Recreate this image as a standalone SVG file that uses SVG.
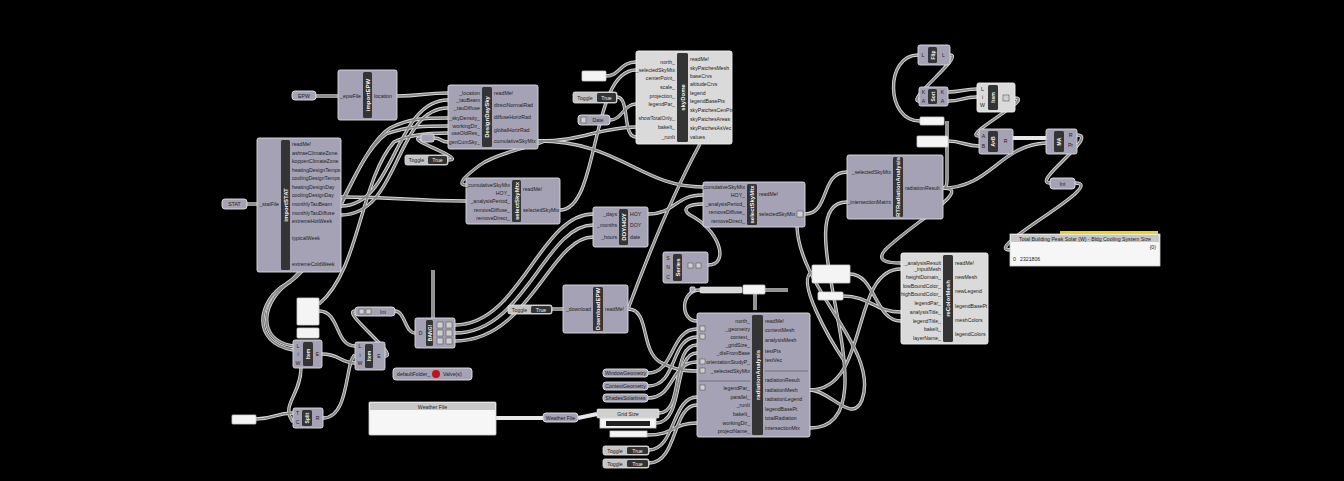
<svg xmlns="http://www.w3.org/2000/svg" xmlns:xlink="http://www.w3.org/1999/xlink" width="1344" height="481" viewBox="0 0 1344 481">
<style>
.n{fill:#a4a2b4;stroke:#dedede;stroke-width:0.9}
.nl{fill:#dadada;stroke:#f2f2f2;stroke-width:0.9}
.s{fill:#343434}
.p{fill:#a4a2b4;stroke:#e4e4e4;stroke-width:0.9}
.wp{fill:#f4f4f4;stroke:#cfcfcf;stroke-width:0.8}
.t{font-family:"Liberation Sans",Arial,sans-serif;font-size:5.2px;fill:#1e1e22}
.ti{font-family:"Liberation Sans",Arial,sans-serif;font-size:5.2px;fill:#1e1e22;text-anchor:end}
.tc{font-family:"Liberation Sans",Arial,sans-serif;font-size:5.2px;fill:#1e1e22;text-anchor:middle}
.tw{font-family:"Liberation Sans",Arial,sans-serif;font-size:5.2px;fill:#f0f0f0;text-anchor:middle}
.lb{font-family:"Liberation Sans",Arial,sans-serif;font-size:6px;font-weight:bold;fill:#f4f4f4;text-anchor:middle;dominant-baseline:central}
.wo{fill:none;stroke:#d8d8d8;stroke-width:3.4}
.wi{fill:none;stroke:#858585;stroke-width:1.7}
.thick{fill:none;stroke:#e8e8e8;stroke-width:4}
.ic{fill:#cfcfcf;stroke:#444;stroke-width:0.5}
</style>
<rect x="0" y="0" width="1344" height="481" fill="#000"/>

<g id="connectors">
<g class="wo"><g id="wl">
<path d="M316,96 L338,96"/>
<path d="M397,96 C420,96 425,93 448,93"/>
<path d="M247,204 L257,204"/>
<path d="M341,206 C395,206 395,100 448,100"/>
<path d="M341,215 C400,215 395,108 448,108"/>
<path d="M341,197 C400,197 410,201 466,201"/>
<path d="M293,346 C255,340 262,300 290,282 C330,255 355,150 390,128 C410,118 425,118 448,118"/>
<path d="M293,350 C250,342 258,300 286,284 C326,258 352,158 386,134 C408,126 425,126 448,126"/>
<path d="M319,304 C360,270 360,180 394,142 C410,134 430,133 448,133"/>
<path d="M448,160 C470,160 402,138 421,138"/>
<path d="M434,138 C442,138 440,142 448,142"/>
<path d="M538,141 C560,141 500,150 480,165 C468,174 455,185 466,185"/>
<path d="M538,141 C620,141 640,187 703,187"/>
<path d="M560,210 C600,210 590,70 636,70"/>
<path d="M538,141 C585,141 595,128 636,127"/>
<path d="M606,76 C620,76 620,62 636,62"/>
<path d="M617,97 C630,97 622,137 636,137"/>
<path d="M610,120 C622,120 624,104 636,104"/>
<path d="M648,214 C675,214 675,195 703,195"/>
<path d="M455,325 C520,325 540,214 593,214"/>
<path d="M455,333 C525,333 545,225 593,225"/>
<path d="M455,341 C530,341 550,237 593,237"/>
<path d="M395,311 C405,311 405,333 415,333"/>
<path d="M433,270 L433,318"/>
<path d="M552,309 L563,309"/>
<path d="M708,265 C730,265 720,230 690,215 C680,208 690,204 703,204"/>
<path d="M628,309 C650,250 675,190 700,144"/>
<path d="M628,309 C650,309 640,350 660,362 C675,370 685,371 697,371"/>
<path d="M805,214 C830,214 820,172 847,172"/>
<path d="M810,428 C900,428 780,202 847,202"/>
<path d="M797,227 C800,290 880,350 862,400 C852,425 830,390 810,390"/>
<path d="M810,390 C870,390 850,269 901,269"/>
<path d="M943,188 C975,188 910,225 885,250 C875,262 890,263 901,263"/>
<path d="M943,188 C990,188 1000,145 1046,143"/>
<path d="M947,121 L947,180 C947,186 945,188 943,188"/>
<path d="M950,55 C965,55 905,101 919,101"/>
<path d="M920,121 C885,121 885,55 918,55"/>
<path d="M948,92 C960,92 965,89 977,89"/>
<path d="M948,101 C962,101 962,97 977,97"/>
<path d="M1015,98 C1035,98 960,136 979,136"/>
<path d="M948,141 C962,141 965,146 979,146"/>
<path d="M1077,135 C1100,135 1030,183 1050,183"/>
<path d="M1075,183 C1110,183 980,250 1010,250"/>
<path d="M850,274 C875,274 875,321 901,321"/>
<path d="M843,296 C870,296 875,312 901,312"/>
<path d="M812,272 C795,280 830,340 845,362"/>
<path d="M648,373 C675,373 670,329 697,329"/>
<path d="M648,386 C678,386 670,337 697,337"/>
<path d="M648,398 C675,398 670,362 697,362"/>
<path d="M659,413 C685,413 670,345 697,345"/>
<path d="M656,423 C685,423 672,353 697,353"/>
<path d="M649,450 C675,450 672,397 697,397"/>
<path d="M649,463 C678,463 672,405 697,405"/>
<path d="M647,435 C675,435 672,423 697,423"/>
<path d="M700,290 C680,290 680,321 697,321"/>
<path d="M256,419 C275,419 275,413 293,413"/>
<path d="M323,418 C350,418 345,360 355,355"/>
<path d="M319,311 C340,311 335,346 355,346"/>
<path d="M322,354 C340,354 340,363 355,363"/>
<path d="M385,356 C400,356 340,311 355,311"/>
<path d="M301,368 C301,395 280,405 293,422"/>
<path d="M755,294 L755,310"/>
<path d="M765,290 L788,290"/>
</g></g>
<use xlink:href="#wl" href="#wl" class="wi"/>
<path class="thick" d="M496,418 L543,418"/>
<path class="thick" d="M578,418 L597,414"/>
<path class="thick" d="M1013,138 L1046,138"/>
</g>

<g id="panel-epw"><rect class="p" x="292" y="91" width="24" height="9" rx="3"/><text class="tc" x="304" y="97.5">EPW</text></g>
<g id="panel-stat"><rect class="p" x="222" y="199" width="25" height="10" rx="3"/><text class="tc" x="234.5" y="206">STAT</text></g>

<g id="importEPW">
<rect class="n" x="338" y="70" width="59" height="50" rx="2"/>
<rect class="s" x="363" y="72" width="9" height="46" rx="1.5"/>
<text class="ti" x="361" y="98">_epwFile</text>
<text class="t" x="374" y="98">location</text>
<text class="lb" transform="translate(367.5,95) rotate(-90)">importEPW</text>
</g>

<g id="importSTAT">
<rect class="n" x="257" y="138" width="84" height="134" rx="2"/>
<rect class="s" x="281" y="140" width="9" height="130" rx="1.5"/>
<text class="ti" x="279" y="206">_statFile</text>
<text class="t" x="292" y="146">readMe!</text>
<text class="t" x="292" y="154.5">ashraeClimateZone</text>
<text class="t" x="292" y="163">koppenClimateZone</text>
<text class="t" x="292" y="171.5">heatingDesignTemps</text>
<text class="t" x="292" y="180">coolingDesignTemps</text>
<text class="t" x="292" y="188.5">heatingDesignDay</text>
<text class="t" x="292" y="197">coolingDesignDay</text>
<text class="t" x="292" y="206">monthlyTauBeam</text>
<text class="t" x="292" y="214.5">monthlyTauDiffuse</text>
<text class="t" x="292" y="223">extremeHotWeek</text>
<text class="t" x="292" y="240">typicalWeek</text>
<text class="t" x="292" y="266">extremeColdWeek</text>
<text class="lb" transform="translate(285.5,205) rotate(-90)">importSTAT</text>
</g>

<g id="DesignDaySky">
<rect class="n" x="448" y="85" width="90" height="64" rx="2"/>
<rect class="s" x="482" y="87" width="10" height="60" rx="1.5"/>
<text class="ti" x="480" y="95">_location</text>
<text class="ti" x="480" y="102">_tauBeam</text>
<text class="ti" x="480" y="110">_tauDiffuse</text>
<text class="ti" x="480" y="120">_skyDensity_</text>
<text class="ti" x="480" y="128">workingDir_</text>
<text class="ti" x="480" y="135">useOldRes_</text>
<text class="ti" x="480" y="144">genCumSky_</text>
<text class="t" x="494" y="95">readMe!</text>
<text class="t" x="494" y="107">directNormalRad</text>
<text class="t" x="494" y="119">diffuseHorizRad</text>
<text class="t" x="494" y="132">globalHorizRad</text>
<text class="t" x="494" y="143">cumulativeSkyMtx</text>
<text class="lb" transform="translate(487,117) rotate(-90)">DesignDaySky</text>
</g>

<g id="relay1"><rect class="p" x="421" y="134" width="13" height="8" rx="2"/></g>
<g id="toggle1">
<rect x="405" y="155" width="43" height="10" rx="2" fill="#c4c4c4" stroke="#e6e6e6" stroke-width="0.8"/>
<rect x="428" y="156" width="19" height="8" rx="1.5" fill="#333"/>
<text class="tc" x="416.5" y="162">Toggle</text><text class="tw" x="437.5" y="162">True</text>
</g>

<g id="selectSkyMtx1">
<rect class="n" x="466" y="178" width="94" height="46" rx="2"/>
<rect class="s" x="512" y="180" width="9" height="42" rx="1.5"/>
<text class="ti" x="510" y="187">_cumulativeSkyMtx</text>
<text class="ti" x="510" y="195">HOY_</text>
<text class="ti" x="510" y="203">_analysisPeriod_</text>
<text class="ti" x="510" y="212">removeDiffuse_</text>
<text class="ti" x="510" y="220">removeDirect_</text>
<text class="t" x="523" y="191">readMe!</text>
<text class="t" x="523" y="212">selectedSkyMtx</text>
<text class="lb" transform="translate(516.5,201) rotate(-90)">selectSkyMtx</text>
</g>

<g id="panel-sky"><rect class="wp" x="582" y="71" width="24" height="10" rx="1"/></g>
<g id="toggle2">
<rect x="573" y="92" width="44" height="11" rx="2" fill="#c4c4c4" stroke="#e6e6e6" stroke-width="0.8"/>
<rect x="597" y="93" width="19" height="9" rx="1.5" fill="#333"/>
<text class="tc" x="585" y="99.5">Toggle</text><text class="tw" x="606.5" y="99.5">True</text>
</g>
<g id="date">
<rect class="p" x="578" y="115" width="32" height="10" rx="3"/>
<rect class="ic" x="581" y="117" width="5" height="6"/>
<text class="tc" x="598" y="122">Date</text>
</g>

<g id="skyDome">
<rect class="nl" x="636" y="51" width="96" height="93" rx="2"/>
<rect class="s" x="677" y="53" width="11" height="89" rx="1.5"/>
<text class="ti" x="675" y="64">north_</text>
<text class="ti" x="675" y="72">_selectedSkyMtx</text>
<text class="ti" x="675" y="80">centerPoint_</text>
<text class="ti" x="675" y="89">scale_</text>
<text class="ti" x="675" y="98">projection_</text>
<text class="ti" x="675" y="106">legendPar_</text>
<text class="ti" x="675" y="120">showTotalOnly_</text>
<text class="ti" x="675" y="129">bakeIt_</text>
<text class="ti" x="675" y="139">_runIt</text>
<text class="t" x="690" y="61">readMe!</text>
<text class="t" x="690" y="70">skyPatchesMesh</text>
<text class="t" x="690" y="78">baseCrvs</text>
<text class="t" x="690" y="86">altitudeCrvs</text>
<text class="t" x="690" y="95">legend</text>
<text class="t" x="690" y="103">legendBasePts</text>
<text class="t" x="690" y="112">skyPatchesCenPts</text>
<text class="t" x="690" y="121">skyPatchesAreas</text>
<text class="t" x="690" y="130">skyPatchesAsVec</text>
<text class="t" x="690" y="139">values</text>
<text class="lb" transform="translate(682.5,97.5) rotate(-90)">skyDome</text>
</g>

<g id="DOYHOY">
<rect class="n" x="593" y="207" width="55" height="40" rx="2"/>
<rect class="s" x="619" y="209" width="9" height="36" rx="1.5"/>
<text class="ti" x="617" y="216">_days</text>
<text class="ti" x="617" y="227">_months</text>
<text class="ti" x="617" y="239">_hours</text>
<text class="t" x="630" y="216">HOY</text>
<text class="t" x="630" y="227">DOY</text>
<text class="t" x="630" y="239">date</text>
<text class="lb" transform="translate(623.5,227) rotate(-90)">DOY/HOY</text>
</g>

<g id="selectSkyMtx2">
<rect class="n" x="703" y="182" width="102" height="45" rx="2"/>
<rect class="s" x="747" y="184" width="10" height="41" rx="1.5"/>
<text class="ti" x="745" y="189">_cumulativeSkyMtx</text>
<text class="ti" x="745" y="197">HOY_</text>
<text class="ti" x="745" y="206">_analysisPeriod_</text>
<text class="ti" x="745" y="214">removeDiffuse_</text>
<text class="ti" x="745" y="223">removeDirect_</text>
<text class="t" x="759" y="196">readMe!</text>
<text class="t" x="759" y="216">selectedSkyMtx</text>
<rect class="ic" x="797" y="211" width="6" height="6"/>
<text class="lb" transform="translate(752,204.5) rotate(-90)">selectSkyMtx</text>
</g>

<g id="Series">
<rect class="n" x="663" y="252" width="45" height="31" rx="2"/>
<rect class="s" x="673" y="254" width="9" height="27" rx="1.5"/>
<text class="tc" x="668" y="260">S</text>
<text class="tc" x="668" y="269">N</text>
<text class="tc" x="668" y="279">C</text>
<rect class="ic" x="688" y="263" width="5" height="5"/>
<rect class="ic" x="696" y="263" width="5" height="5"/>
<text class="lb" transform="translate(677.5,267.5) rotate(-90)">Series</text>
</g>

<g id="slider1">
<rect class="p" x="690" y="287" width="5" height="5" rx="1"/>
<rect x="700" y="287" width="42" height="6" rx="1" fill="#d6d6d6" stroke="#eee" stroke-width="0.6"/>
<rect class="wp" x="743" y="285" width="22" height="9" rx="1"/>
</g>

<g id="DownloadEPW">
<rect class="n" x="563" y="285" width="65" height="48" rx="2"/>
<rect class="s" x="593" y="287" width="10" height="44" rx="1.5"/>
<text class="ti" x="591" y="311">_download</text>
<text class="t" x="605" y="311">readMe!</text>
<text class="lb" transform="translate(598,309) rotate(-90)">DownloadEPW</text>
</g>
<g id="toggle3">
<rect x="508" y="305" width="44" height="9" rx="2" fill="#c4c4c4" stroke="#e6e6e6" stroke-width="0.8"/>
<rect x="531" y="306" width="20" height="7" rx="1.5" fill="#333"/>
<text class="tc" x="519.5" y="311.5">Toggle</text><text class="tw" x="541" y="311.5">True</text>
</g>

<g id="BANG">
<rect class="n" x="415" y="318" width="40" height="30" rx="2"/>
<rect class="s" x="426" y="320" width="7" height="26" rx="1.5"/>
<text class="tc" x="420.5" y="335">D</text>
<rect class="ic" x="437" y="322" width="6" height="6"/><rect class="ic" x="446" y="322" width="6" height="6"/>
<rect class="ic" x="437" y="330" width="6" height="6"/><rect class="ic" x="446" y="330" width="6" height="6"/>
<rect class="ic" x="437" y="338" width="6" height="6"/><rect class="ic" x="446" y="338" width="6" height="6"/>
<text class="lb" transform="translate(429.5,333) rotate(-90)" style="font-size:5px">BANG!</text>
</g>

<g id="int1">
<rect class="p" x="355" y="307" width="40" height="9" rx="3"/>
<rect class="ic" x="359" y="309" width="5" height="5"/><rect class="ic" x="366" y="309" width="5" height="5"/>
<text class="tc" x="383" y="313.5">Int</text>
</g>

<g id="panels-left">
<rect class="wp" x="297" y="298" width="22" height="27" rx="1"/>
<rect class="wp" x="297" y="328" width="22" height="10" rx="1"/>
<rect class="wp" x="232" y="415" width="24" height="9" rx="1"/>
</g>

<g id="item1">
<rect class="n" x="293" y="340" width="29" height="28" rx="2"/>
<rect class="s" x="303" y="342" width="10" height="24" rx="1.5"/>
<text class="tc" x="298" y="348">L</text><text class="tc" x="298" y="356">i</text><text class="tc" x="298" y="365">W</text>
<text class="tc" x="317.5" y="356">E</text>
<text class="lb" transform="translate(308,354) rotate(-90)" style="font-size:5px">Item</text>
</g>

<g id="item2">
<rect class="n" x="355" y="342" width="30" height="28" rx="2"/>
<rect class="s" x="365" y="344" width="8" height="24" rx="1.5"/>
<text class="tc" x="360" y="348">L</text><text class="tc" x="360" y="357">i</text><text class="tc" x="360" y="365">W</text>
<text class="tc" x="379" y="358">E</text>
<text class="lb" transform="translate(369,356) rotate(-90)" style="font-size:5px">Item</text>
</g>

<g id="valve">
<rect class="p" x="393" y="368" width="79" height="12" rx="3"/>
<text class="t" x="397" y="376">defaultFolder_</text>
<circle cx="436" cy="374" r="4" fill="#c0141c"/>
<text class="t" x="443" y="376">Valve(s)</text>
</g>

<g id="Split">
<rect class="n" x="293" y="408" width="30" height="20" rx="2"/>
<rect class="s" x="302" y="410" width="10" height="16" rx="1.5"/>
<text class="tc" x="297.5" y="415">T</text><text class="tc" x="297.5" y="424">C</text>
<text class="tc" x="317.5" y="420">R</text>
<text class="lb" transform="translate(307,418) rotate(-90)" style="font-size:5px">Split</text>
</g>

<g id="weatherPanel">
<rect x="369" y="402" width="127" height="33" rx="1" fill="#f6f6f6" stroke="#cfcfcf" stroke-width="0.8"/>
<rect x="370" y="403" width="125" height="7" fill="#c8c8c8"/>
<text class="tc" x="432.5" y="408.5">Weather File</text>
</g>
<g id="weatherParam"><rect class="p" x="543" y="413" width="35" height="9" rx="3"/><text class="tc" x="560.5" y="419.5">Weather File</text></g>

<g id="gridSize">
<rect x="597" y="409" width="62" height="9" rx="1" fill="#d0d0d0" stroke="#eee" stroke-width="0.6"/>
<text class="tc" x="628" y="415.5">Grid Size</text>
<rect class="wp" x="600" y="418" width="56" height="10"/>
<rect x="606" y="421" width="44" height="5" fill="#222"/>
<rect class="wp" x="610" y="431" width="37" height="6"/>
</g>

<g id="geoParams">
<rect class="p" x="603" y="369" width="45" height="8" rx="3"/><text class="tc" x="625.5" y="375">WindowGeometry</text>
<rect class="p" x="603" y="382" width="45" height="8" rx="3"/><text class="tc" x="625.5" y="388">ContextGeometry</text>
<rect class="p" x="603" y="394" width="45" height="8" rx="3"/><text class="tc" x="625.5" y="400">ShadesSolarlines</text>
</g>

<g id="toggles-bottom">
<rect x="603" y="446" width="46" height="9" rx="2" fill="#c4c4c4" stroke="#e6e6e6" stroke-width="0.8"/>
<rect x="627" y="447" width="21" height="7" rx="1.5" fill="#333"/>
<text class="tc" x="615" y="452.5">Toggle</text><text class="tw" x="637.5" y="452.5">True</text>
<rect x="603" y="459" width="46" height="9" rx="2" fill="#c4c4c4" stroke="#e6e6e6" stroke-width="0.8"/>
<rect x="627" y="460" width="21" height="7" rx="1.5" fill="#333"/>
<text class="tc" x="615" y="465.5">Toggle</text><text class="tw" x="637.5" y="465.5">True</text>
</g>

<g id="radiationAnalysis">
<rect class="n" x="697" y="313" width="113" height="124" rx="2"/>
<rect class="s" x="752" y="315" width="11" height="120" rx="1.5"/>
<line x1="699" y1="381" x2="750" y2="381" stroke="#555" stroke-width="0.6"/>
<line x1="765" y1="371" x2="808" y2="371" stroke="#555" stroke-width="0.6"/>
<rect class="ic" x="700" y="326" width="5" height="5"/><rect class="ic" x="700" y="334" width="5" height="5"/>
<rect class="ic" x="700" y="359" width="5" height="5"/><rect class="ic" x="700" y="368" width="5" height="5"/>
<rect class="ic" x="700" y="385" width="5" height="5"/>
<text class="ti" x="750" y="323">north_</text>
<text class="ti" x="750" y="331">_geometry</text>
<text class="ti" x="750" y="339">context_</text>
<text class="ti" x="750" y="347">_gridSize_</text>
<text class="ti" x="750" y="355">_disFromBase</text>
<text class="ti" x="750" y="364">orientationStudyP_</text>
<text class="ti" x="750" y="373">_selectedSkyMtx</text>
<text class="ti" x="750" y="390">legendPar_</text>
<text class="ti" x="750" y="399">parallel_</text>
<text class="ti" x="750" y="407">_runIt</text>
<text class="ti" x="750" y="416">bakeIt_</text>
<text class="ti" x="750" y="425">workingDir_</text>
<text class="ti" x="750" y="433">projectName_</text>
<text class="t" x="765" y="323">readMe!</text>
<text class="t" x="765" y="332">contextMesh</text>
<text class="t" x="765" y="342">analysisMesh</text>
<text class="t" x="765" y="353">testPts</text>
<text class="t" x="765" y="362">testVec</text>
<text class="t" x="765" y="382">radiationResult</text>
<text class="t" x="765" y="392">radiationMesh</text>
<text class="t" x="765" y="401">radiationLegend</text>
<text class="t" x="765" y="411">legendBasePt</text>
<text class="t" x="765" y="420">totalRadiation</text>
<text class="t" x="765" y="430">intersectionMtx</text>
<text class="lb" transform="translate(757.5,375) rotate(-90)">radiationAnalysis</text>
</g>

<g id="RTRadiationAnalysis">
<rect class="n" x="847" y="155" width="96" height="64" rx="2"/>
<rect class="s" x="893" y="157" width="10" height="60" rx="1.5"/>
<text class="ti" x="891" y="174">_selectedSkyMtx</text>
<text class="ti" x="891" y="204">_intersectionMatrix</text>
<text class="t" x="905" y="190">radiationResult</text>
<text class="lb" transform="translate(898,187) rotate(-90)">RTRadiationAnalysis</text>
</g>

<g id="panels-mid">
<rect class="wp" x="812" y="265" width="38" height="18" rx="1"/>
<rect class="wp" x="818" y="292" width="25" height="8" rx="1"/>
</g>

<g id="reColorMesh">
<rect class="nl" x="901" y="253" width="87" height="91" rx="2"/>
<rect class="s" x="943" y="255" width="10" height="87" rx="1.5"/>
<text class="ti" x="941" y="265">_analysisResult</text>
<text class="ti" x="941" y="271">_inputMesh</text>
<text class="ti" x="941" y="279">heightDomain_</text>
<text class="ti" x="941" y="288">lowBoundColor_</text>
<text class="ti" x="941" y="296">highBoundColor_</text>
<text class="ti" x="941" y="305">legendPar_</text>
<text class="ti" x="941" y="314">analysisTitle_</text>
<text class="ti" x="941" y="323">legendTitle_</text>
<text class="ti" x="941" y="331">bakeIt_</text>
<text class="ti" x="941" y="340">layerName_</text>
<text class="t" x="955" y="265">readMe!</text>
<text class="t" x="955" y="279">newMesh</text>
<text class="t" x="955" y="293">newLegend</text>
<text class="t" x="955" y="308">legendBasePt</text>
<text class="t" x="955" y="322">meshColors</text>
<text class="t" x="955" y="336">legendColors</text>
<text class="lb" transform="translate(948,298.5) rotate(-90)">reColorMesh</text>
</g>

<g id="Flip">
<rect class="n" x="918" y="45" width="32" height="20" rx="2"/>
<rect class="s" x="928" y="47" width="9" height="16" rx="1.5"/>
<text class="tc" x="923" y="57">L</text><text class="tc" x="943.5" y="57">L</text>
<text class="lb" transform="translate(932.5,55) rotate(-90)" style="font-size:5px">Flip</text>
</g>
<g id="Sort">
<rect class="n" x="919" y="87" width="29" height="19" rx="2"/>
<rect class="s" x="928" y="89" width="9" height="15" rx="1.5"/>
<text class="tc" x="923.5" y="94">K</text><text class="tc" x="923.5" y="103">A</text>
<text class="tc" x="942.5" y="94">K</text><text class="tc" x="942.5" y="103">A</text>
<text class="lb" transform="translate(932.5,96.5) rotate(-90)" style="font-size:5px">Sort</text>
</g>
<g id="item3">
<rect class="nl" x="977" y="83" width="38" height="29" rx="2"/>
<rect class="s" x="988" y="85" width="10" height="25" rx="1.5"/>
<text class="tc" x="982.5" y="91">L</text><text class="tc" x="982.5" y="99">i</text><text class="tc" x="982.5" y="107">W</text>
<rect class="ic" x="1003" y="95" width="6" height="6"/>
<text class="lb" transform="translate(993,97.5) rotate(-90)" style="font-size:5px">Item</text>
</g>
<g id="panels-tr">
<rect class="wp" x="920" y="117" width="24" height="8" rx="1"/>
<rect class="wp" x="917" y="136" width="31" height="11" rx="1"/>
</g>
<g id="AxB">
<rect class="n" x="979" y="129" width="34" height="25" rx="2"/>
<rect class="s" x="988" y="131" width="10" height="21" rx="1.5"/>
<text class="tc" x="983.5" y="138">A</text><text class="tc" x="983.5" y="148">B</text>
<text class="tc" x="1005.5" y="143">R</text>
<text class="lb" transform="translate(993,141.5) rotate(-90)" style="font-size:5px">A×B</text>
</g>
<g id="MA">
<rect class="n" x="1046" y="129" width="31" height="25" rx="2"/>
<rect class="s" x="1054" y="131" width="10" height="21" rx="1.5"/>
<text class="tc" x="1070.5" y="137">R</text><text class="tc" x="1070.5" y="147">Pr</text>
<text class="lb" transform="translate(1059,141.5) rotate(-90)" style="font-size:5px">MA</text>
</g>
<g id="int2"><rect class="p" x="1050" y="178" width="25" height="11" rx="3"/><text class="tc" x="1062.5" y="185.5">Int</text></g>

<g id="resultPanel">
<rect x="1060" y="231" width="98" height="3" fill="#e8d420"/>
<rect x="1010" y="234" width="150" height="32" fill="#f6f6f6" stroke="#cfcfcf" stroke-width="0.8"/>
<rect x="1011" y="235" width="148" height="7" fill="#c8c8c8"/>
<text class="tc" x="1085" y="240.5">Total Building Peak Solar (W) - Bldg Cooling System Size</text>
<text class="ti" x="1156" y="249">{0}</text>
<text class="t" x="1013" y="261">0</text>
<text class="t" x="1020" y="261">2321806</text>
</g>
</svg>
